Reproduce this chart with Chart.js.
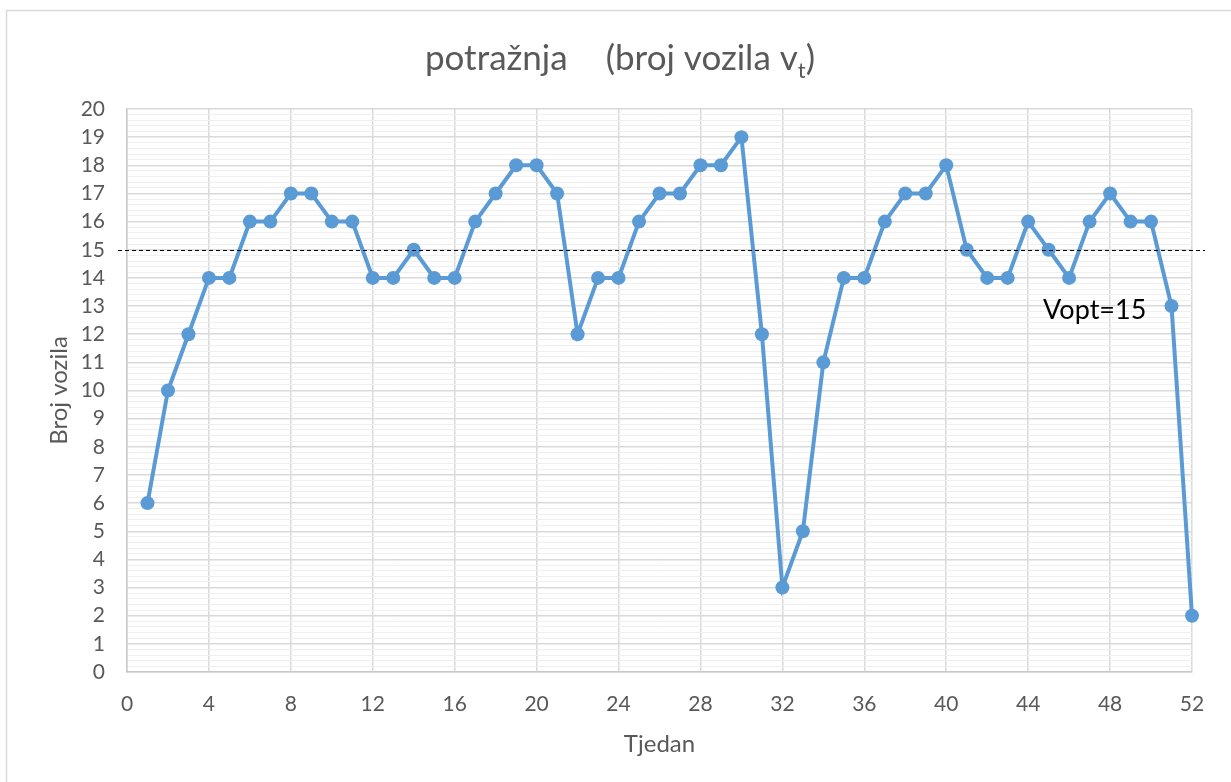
<!DOCTYPE html>
<html>
<head>
<meta charset="utf-8">
<script src="https://cdn.jsdelivr.net/npm/chart.js@4/dist/chart.umd.min.js"></script>
<style>
  html, body { margin: 0; padding: 0; background: #fff; }
  canvas { display: block; }
</style>
</head>
<body>
<canvas id="demandChart" width="1231" height="782"></canvas>
<script>
// weekly demand (broj vozila)
const weeks = [1, 2, 3, 4, 5, 6, 7, 8, 9, 10, 11, 12, 13, 14, 15, 16, 17, 18, 19, 20, 21, 22, 23, 24, 25, 26,
               27, 28, 29, 30, 31, 32, 33, 34, 35, 36, 37, 38, 39, 40, 41, 42, 43, 44, 45, 46, 47, 48, 49, 50, 51, 52];
const demand = [6, 10, 12, 14, 14, 16, 16, 17, 17, 16, 16, 14, 14, 15, 14, 14, 16, 17, 18, 18, 17, 12, 14, 14, 16, 17,
                17, 18, 18, 19, 12, 3, 5, 11, 14, 14, 16, 17, 17, 18, 15, 14, 14, 16, 15, 14, 16, 17, 16, 16, 13, 2];
const vOpt = 15;
const vOptLabel = 'Vopt=15';
const xTickStep = 4;
const yMinorStep = 0.2;

const textGray = '#595959';
const fontFamily = 'Lato, "Open Sans", sans-serif';

const points = weeks.map(function(w, i) { return { x: w, y: demand[i] }; });

// frame, title, dashed Vopt line and its label
const decorations = {
    id: 'decorations',
    beforeDraw: function(chart) {
        const ctx = chart.ctx;
        ctx.save();
        ctx.fillStyle = '#ffffff';
        ctx.fillRect(0, 0, chart.width, chart.height);
        ctx.strokeStyle = '#d9d9d9';
        ctx.lineWidth = 1.5;
        ctx.strokeRect(6.5, 10.5, chart.width + 20, chart.height + 20);
        ctx.restore();
    },
    afterDraw: function(chart) {
        const ctx = chart.ctx;
        const area = chart.chartArea;
        const y = chart.scales.y;
        const x = chart.scales.x;
        ctx.save();

        // title with subscript t
        const partA = 'potražnja';
        const partB = '(broj vozila v';
        const sub = 't';
        const partC = ')';
        const gap = 38;
        const bigFont = '35px ' + fontFamily;
        const subFont = '22px ' + fontFamily;
        ctx.fillStyle = textGray;
        ctx.textBaseline = 'alphabetic';
        ctx.font = bigFont;
        const wA = ctx.measureText(partA).width;
        const wB = ctx.measureText(partB).width;
        const wC = ctx.measureText(partC).width;
        ctx.font = subFont;
        const wS = ctx.measureText(sub).width;
        const total = wA + gap + wB + wS + wC;
        let tx = 620 - total / 2;
        const ty = 70;
        ctx.font = bigFont;
        ctx.fillText(partA, tx, ty); tx += wA + gap;
        ctx.fillText(partB, tx, ty); tx += wB;
        ctx.font = subFont;
        ctx.fillText(sub, tx, ty + 8); tx += wS;
        ctx.font = bigFont;
        ctx.fillText(partC, tx, ty);

        // dashed optimum line
        const yy = Math.round(y.getPixelForValue(vOpt)) + 0.5;
        ctx.strokeStyle = '#000000';
        ctx.lineWidth = 1;
        ctx.setLineDash([4, 3]);
        ctx.beginPath();
        ctx.moveTo(area.left - 9, yy);
        ctx.lineTo(area.right + 13, yy);
        ctx.stroke();
        ctx.setLineDash([]);

        ctx.fillStyle = '#000000';
        ctx.font = '27px ' + fontFamily;
        ctx.textBaseline = 'alphabetic';
        ctx.fillText(vOptLabel, x.getPixelForValue(44.73), y.getPixelForValue(12.54));
        ctx.restore();
    }
};

function isMajor(v) {
    return Math.abs(v - Math.round(v)) < 1e-6;
}

const ctx = document.getElementById('demandChart').getContext('2d');
new Chart(ctx, {
    type: 'line',
    data: {
        datasets: [{
            label: 'potražnja',
            data: points,
            borderColor: '#5b9bd5',
            backgroundColor: '#5b9bd5',
            borderWidth: 4,
            pointRadius: 7,
            pointBackgroundColor: '#5b9bd5',
            pointBorderColor: '#5b9bd5',
            pointBorderWidth: 0,
            tension: 0,
            fill: false,
            clip: false
        }]
    },
    options: {
        responsive: false,
        animation: false,
        layout: {
            padding: { top: 109, right: 39, left: 0, bottom: 0 }
        },
        plugins: {
            legend: { display: false },
            title: { display: false },
            tooltip: { enabled: false }
        },
        scales: {
            x: {
                type: 'linear',
                min: 0,
                max: 52,
                afterFit: function(scale) { scale.height = 110; },
                ticks: {
                    stepSize: xTickStep,
                    color: textGray,
                    padding: 20,
                    font: { family: fontFamily, size: 21 }
                },
                grid: {
                    color: '#d9d9d9',
                    lineWidth: 1.5,
                    drawTicks: false
                },
                border: { color: '#c8c8c8', width: 1.5 },
                title: {
                    display: true,
                    text: 'Tjedan',
                    color: textGray,
                    font: { family: fontFamily, size: 24 },
                    padding: { top: 0, bottom: 23 }
                }
            },
            y: {
                type: 'linear',
                min: 0,
                max: 20,
                afterFit: function(scale) { scale.width = 127; },
                ticks: {
                    stepSize: yMinorStep,
                    autoSkip: false,
                    color: textGray,
                    padding: 22,
                    font: { family: fontFamily, size: 21 },
                    callback: function(v) { return isMajor(v) ? String(Math.round(v)) : ''; }
                },
                grid: {
                    drawTicks: false,
                    color: function(c) { return isMajor(c.tick.value) ? '#d9d9d9' : '#efefef'; },
                    lineWidth: function(c) { return isMajor(c.tick.value) ? 1.5 : 1; }
                },
                border: { color: '#c8c8c8', width: 1.5 },
                title: {
                    display: true,
                    text: 'Broj vozila',
                    color: textGray,
                    font: { family: fontFamily, size: 24 },
                    padding: { top: 45, bottom: 0 }
                }
            }
        }
    },
    plugins: [decorations]
});
</script>
</body>
</html>
